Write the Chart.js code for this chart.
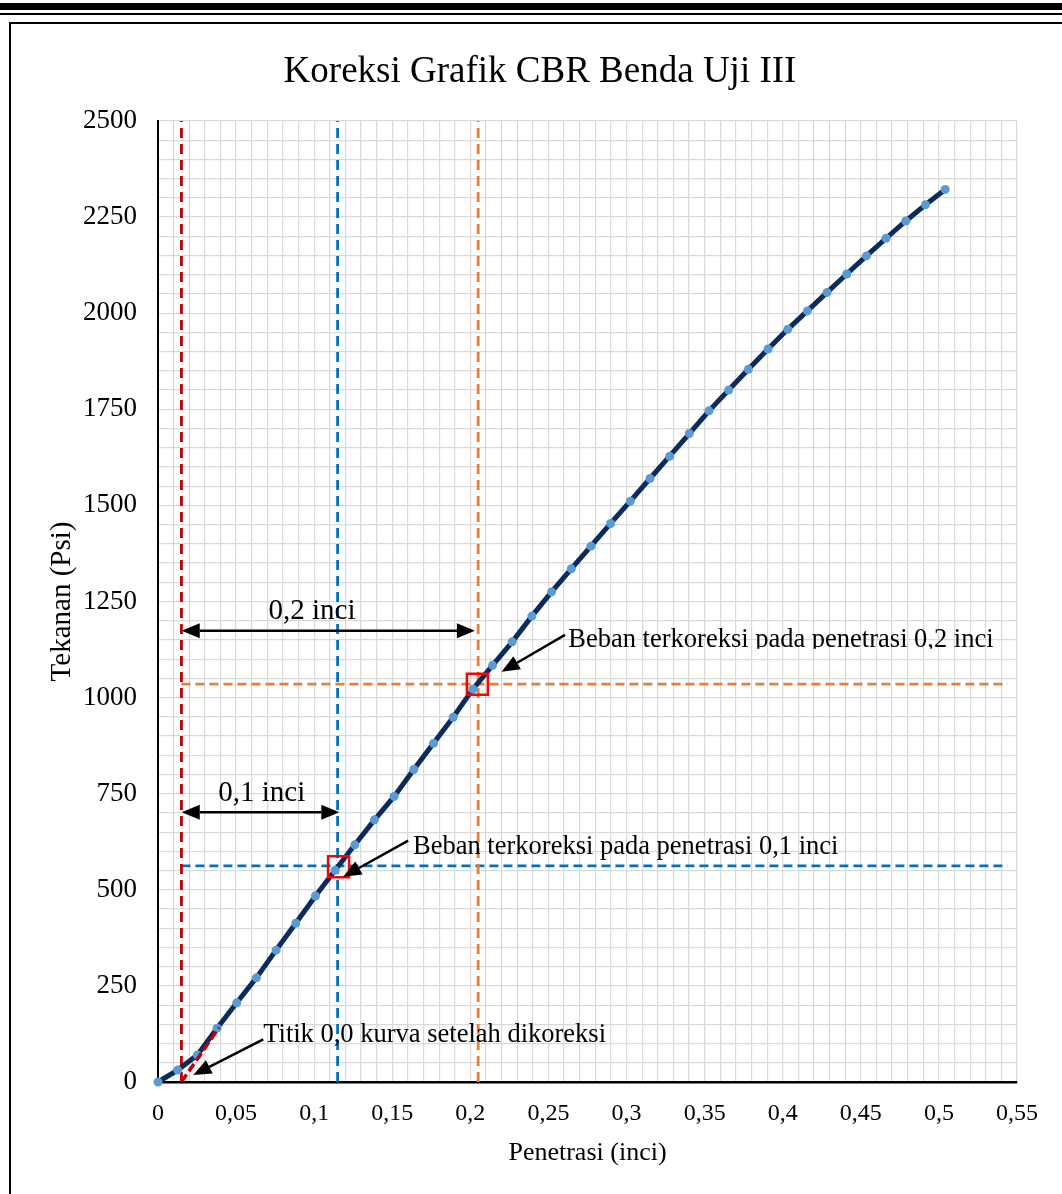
<!DOCTYPE html>
<html>
<head>
<meta charset="utf-8">
<script src="https://cdn.jsdelivr.net/npm/chart.js@4.4.1/dist/chart.umd.min.js"></script>
<style>
  html, body { margin: 0; padding: 0; background: #ffffff; }
  #wrap { position: absolute; left: 0; top: 0; width: 1062px; height: 1194px; }
  canvas { display: block; }
</style>
</head>
<body>
<div id="wrap"><canvas id="c" width="1062" height="1194" style="width:1062px;height:1194px"></canvas></div>
<script>
// ---------- DATA ----------
const chartTitle = 'Koreksi Grafik CBR Benda Uji III';
const xAxisTitle = 'Penetrasi (inci)';
const yAxisTitle = 'Tekanan (Psi)';

// measured curve (penetration in inch, pressure in psi)
const penetrasi = [0, 0.0126, 0.0252, 0.0378, 0.0504, 0.063, 0.0756, 0.0882, 0.1008, 0.1134,
  0.126, 0.1386, 0.1512, 0.1638, 0.1764, 0.189, 0.2016, 0.2142, 0.2268, 0.2394,
  0.252, 0.2646, 0.2772, 0.2898, 0.3024, 0.315, 0.3276, 0.3402, 0.3528, 0.3654,
  0.378, 0.3906, 0.4032, 0.4158, 0.4284, 0.441, 0.4536, 0.4662, 0.4788, 0.4914, 0.504];
const tekanan = [0, 31, 70, 140, 206, 271, 343, 413, 484, 551,
  617, 682, 743, 813, 881, 949, 1022, 1084, 1145, 1212,
  1275, 1335, 1394, 1453, 1511, 1570, 1628, 1687, 1746, 1800,
  1854, 1907, 1958, 2006, 2054, 2102, 2149, 2195, 2240, 2282, 2322];

// correction tangent line
const koreksiX = [0.015, 0.0392];
const koreksiY = [0, 142];

// reference lines
const titikNolX = 0.015;
const pen01X = 0.115;
const pen02X = 0.205;
const beban01Y = 562;
const beban02Y = 1035;
const garisHorizontalX = [0.015, 0.544];
const yMin = 0, yMax = 2500;

// corrected load markers
const markerX = [0.1156, 0.2045];
const markerY = [560, 1035];

// tick labels
const xTickLabels = ['0', '0,05', '0,1', '0,15', '0,2', '0,25', '0,3', '0,35', '0,4', '0,45', '0,5', '0,55'];
const yTickLabels = ['0', '250', '500', '750', '1000', '1250', '1500', '1750', '2000', '2250', '2500'];

// annotation arrows (data coordinates), double = heads at both ends
const arrowX1 = [0.0152, 0.0152, 0.1602, 0.2606, 0.0674];
const arrowY1 = [1174, 702, 628, 1163, 111];
const arrowX2 = [0.2029, 0.1161, 0.1186, 0.2200, 0.0226];
const arrowY2 = [1174, 702, 534, 1067, 18];
const arrowDouble = [true, true, false, false, false];

// annotation texts (data coordinates of anchor)
const noteText = ['0,2 inci', '0,1 inci', 'Beban terkoreksi pada penetrasi 0,1 inci',
  'Beban terkoreksi pada penetrasi 0,2 inci', 'Titik 0,0 kurva setelah dikoreksi'];
const noteX = [0.0986, 0.0664, 0.1633, 0.2627, 0.0674];
const noteY = [1204, 732, 594, 1132, 105];
const noteAlign = ['center', 'center', 'left', 'left', 'left'];
const noteBig = [true, true, false, false, false];

// ---------- STYLE ----------
const SERIF = '"Liberation Serif", "Times New Roman", serif';
const toPts = (xs, ys) => xs.map((x, i) => ({ x: x, y: ys[i] }));

const pagePlugin = {
  id: 'page',
  beforeDraw(chart) {
    const ctx = chart.ctx;
    ctx.save();
    ctx.fillStyle = '#ffffff';
    ctx.fillRect(0, 0, chart.width, chart.height);
    ctx.fillStyle = '#000000';
    ctx.fillRect(0, 3, chart.width, 7);
    ctx.fillRect(0, 13, chart.width, 2);
    ctx.strokeStyle = '#000000';
    ctx.lineWidth = 2;
    ctx.beginPath();
    ctx.moveTo(10, chart.height + 5);
    ctx.lineTo(10, 23);
    ctx.lineTo(chart.width + 5, 23);
    ctx.stroke();
    // chart title
    ctx.font = '37px ' + SERIF;
    ctx.textAlign = 'center';
    ctx.textBaseline = 'middle';
    ctx.fillText(chartTitle, 540, 72);
    ctx.restore();
  }
};

function drawArrow(ctx, x1, y1, x2, y2, len, w) {
  const a = Math.atan2(y2 - y1, x2 - x1);
  const bx = x2 - len * Math.cos(a), by = y2 - len * Math.sin(a);
  ctx.beginPath();
  ctx.moveTo(x2, y2);
  ctx.lineTo(bx + (w / 2) * Math.sin(a), by - (w / 2) * Math.cos(a));
  ctx.lineTo(bx - (w / 2) * Math.sin(a), by + (w / 2) * Math.cos(a));
  ctx.closePath();
  ctx.fill();
  return [bx, by];
}

const notesPlugin = {
  id: 'notes',
  afterDatasetsDraw(chart) {
    const ctx = chart.ctx;
    const xs = chart.scales.x, ys = chart.scales.y;
    ctx.save();
    ctx.strokeStyle = '#000000';
    ctx.fillStyle = '#000000';
    ctx.lineWidth = 2.5;
    ctx.lineCap = 'butt';
    for (let i = 0; i < arrowX1.length; i++) {
      let x1 = xs.getPixelForValue(arrowX1[i]), y1 = ys.getPixelForValue(arrowY1[i]);
      let x2 = xs.getPixelForValue(arrowX2[i]), y2 = ys.getPixelForValue(arrowY2[i]);
      const len = 18, w = 15;
      const end = drawArrow(ctx, x1, y1, x2, y2, len, w);
      let start = [x1, y1];
      if (arrowDouble[i]) start = drawArrow(ctx, x2, y2, x1, y1, len, w);
      ctx.beginPath();
      ctx.moveTo(start[0], start[1]);
      ctx.lineTo(end[0], end[1]);
      ctx.stroke();
    }
    ctx.textBaseline = 'alphabetic';
    for (let i = 0; i < noteText.length; i++) {
      const px = xs.getPixelForValue(noteX[i]), py = ys.getPixelForValue(noteY[i]);
      ctx.font = (noteBig[i] ? '29px ' : '26.5px ') + SERIF;
      ctx.textAlign = noteAlign[i];
      ctx.save();
      if (i === 3) { // text box clipped at its lower edge as in the source
        ctx.beginPath();
        ctx.rect(px - 5, py - 40, 500, 42);
        ctx.clip();
      }
      ctx.fillText(noteText[i], px, py);
      ctx.restore();
    }
    ctx.restore();
  }
};

const dashLine = (data, color, dash, order) => ({
  data: data, showLine: true, borderColor: color, borderWidth: 2.8, borderDash: dash,
  pointRadius: 0, fill: false, order: order, tension: 0
});

const chart = new Chart(document.getElementById('c'), {
  type: 'scatter',
  data: {
    datasets: [
      {
        label: 'Tekanan',
        data: toPts(penetrasi, tekanan),
        showLine: true,
        borderColor: '#0B2B5E',
        borderWidth: 5,
        pointRadius: 4.5,
        pointBackgroundColor: '#5B9BD5',
        pointBorderWidth: 0,
        tension: 0,
        clip: false,
        order: 2
      },
      {
        label: 'Koreksi',
        data: toPts(koreksiX, koreksiY),
        showLine: true, borderColor: '#C00000', borderWidth: 3.5, borderDash: [9, 4],
        pointRadius: 0, order: 1, tension: 0
      },
      dashLine(toPts([titikNolX, titikNolX], [yMin, yMax]), '#C00000', [10, 6], 5),
      dashLine(toPts([pen01X, pen01X], [yMin, yMax]), '#0070C0', [10, 6], 5),
      dashLine(toPts([pen02X, pen02X], [yMin, yMax]), '#ED7D31', [10, 6], 5),
      dashLine(toPts(garisHorizontalX, [beban01Y, beban01Y]), '#0070C0', [9, 5], 5),
      dashLine(toPts(garisHorizontalX, [beban02Y, beban02Y]), '#ED7D31', [9, 5], 5),
      {
        label: 'Beban terkoreksi',
        data: toPts(markerX, markerY),
        showLine: false,
        pointStyle: 'rect',
        pointRadius: 14.85,
        pointBorderColor: '#FF0000',
        pointBorderWidth: 2.5,
        pointBackgroundColor: 'rgba(0,0,0,0)',
        order: 0
      }
    ]
  },
  options: {
    responsive: false,
    devicePixelRatio: 1,
    animation: false,
    layout: { padding: { left: 0, top: 121, right: 45, bottom: 0 } },
    plugins: {
      legend: { display: false },
      tooltip: { enabled: false },
      title: { display: false }
    },
    scales: {
      x: {
        type: 'linear',
        min: 0, max: 0.55,
        grid: { color: '#D9D9D9', lineWidth: 1.2, drawTicks: false },
        border: { display: true, color: '#000000', width: 2.5 },
        ticks: {
          stepSize: 0.01, autoSkip: false, maxTicksLimit: 1000, maxRotation: 0,
          padding: 17.6, color: '#000000',
          font: { family: SERIF, size: 24 },
          callback: (v, i) => (i % 5 === 0 ? xTickLabels[i / 5] : '')
        },
        title: {
          display: true, text: xAxisTitle, color: '#000000',
          font: { family: SERIF, size: 26, lineHeight: 1.2 },
          padding: { top: 0, bottom: 25.4 }
        },
        afterFit(s) { s.height = 112; }
      },
      y: {
        type: 'linear',
        min: 0, max: 2500,
        grid: { color: '#D9D9D9', lineWidth: 1.2, drawTicks: false },
        border: { display: true, color: '#000000', width: 2 },
        ticks: {
          stepSize: 50, autoSkip: false, maxTicksLimit: 1000,
          padding: 21, color: '#000000',
          font: { family: SERIF, size: 27 },
          callback: (v, i) => (i % 5 === 0 ? yTickLabels[i / 5] : '')
        },
        title: {
          display: true, text: yAxisTitle, color: '#000000',
          font: { family: SERIF, size: 29, lineHeight: 1.2 },
          padding: { top: 45, bottom: 0 }
        },
        afterFit(s) { s.width = 158; }
      }
    }
  },
  plugins: [pagePlugin, notesPlugin]
});
</script>
</body>
</html>
